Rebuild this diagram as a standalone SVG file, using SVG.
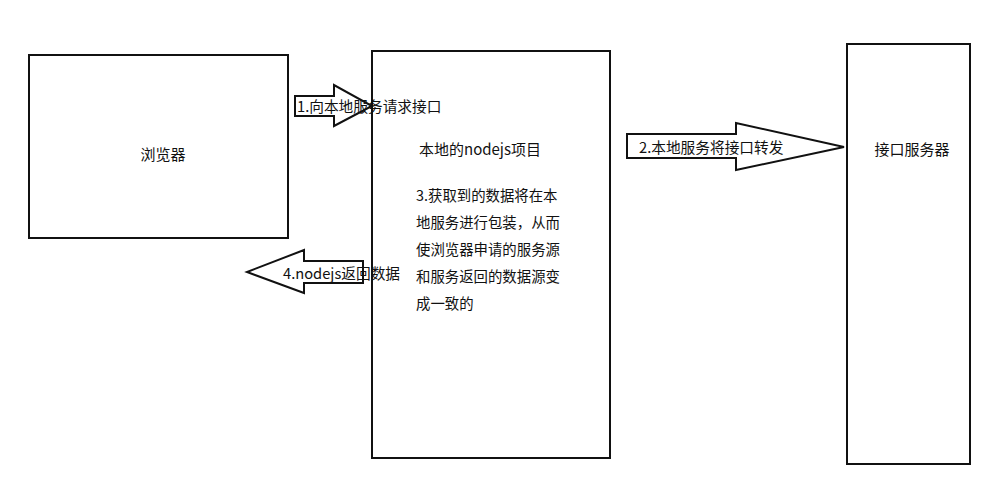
<svg xmlns="http://www.w3.org/2000/svg" width="1005" height="500" viewBox="0 0 1005 500">
<style>
.box{fill:#fff;stroke:#111;stroke-width:2}
.arr{fill:#fff;stroke:#111;stroke-width:2;stroke-linejoin:miter}
text{font-family:"Noto Sans CJK SC","Microsoft YaHei",sans-serif;fill:#111}
.lbl{font-size:15px}
.par{font-size:14.4px}
.al{font-size:14.7px}
</style>
<rect width="1005" height="500" fill="#fff"/>
<g id="browser">
<rect class="box" x="29" y="55" width="259" height="183"/>
<text class="lbl" x="163" y="160" text-anchor="middle">浏览器</text>
</g>
<g id="nodejs">
<rect class="box" x="372" y="51" width="238" height="407"/>
<text class="lbl" x="480" y="155" text-anchor="middle">本地的nodejs项目</text>
<text class="par" x="416" y="201">3.获取到的数据将在本</text>
<text class="par" x="416" y="228">地服务进行包装，从而</text>
<text class="par" x="416" y="255">使浏览器申请的服务源</text>
<text class="par" x="416" y="282">和服务返回的数据源变</text>
<text class="par" x="416" y="309">成一致的</text>
</g>
<g id="server">
<rect class="box" x="847" y="44" width="123" height="420"/>
<text class="lbl" x="912" y="155" text-anchor="middle">接口服务器</text>
</g>
<g id="connectors">
<g id="arrow1">
<polygon class="arr" points="295,96 334,96 334,85 372,106 334,126 334,116 295,116"/>
<text class="al" x="297" y="112">1.向本地服务请求接口</text>
</g>
<g id="arrow2">
<polygon class="arr" points="627,134 736,134 736,123 844,147 736,170 736,158 627,158"/>
<text class="al" x="639" y="153">2.本地服务将接口转发</text>
</g>
<g id="arrow4">
<polygon class="arr" points="363,261 304,261 304,250 247,272 304,293 304,283 363,283"/>
<text class="al" x="283" y="279">4.nodejs返回数据</text>
</g>
</g>
</svg>
